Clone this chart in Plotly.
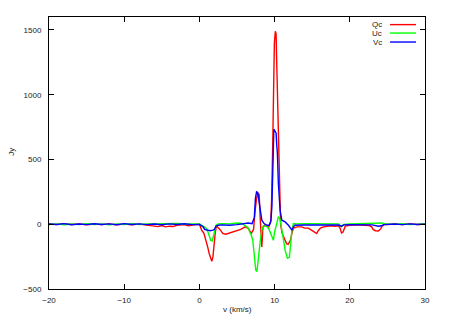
import plotly.graph_objects as go

# ---- data ----
v_qc = [-20, -19, -18, -17, -16, -15, -14, -13, -12, -11, -10, -9, -8, -7, -6.5, -6, -5.5, -5,
        -4.5, -4, -3.5, -3, -2.5, -2, -1.5, -1, -0.5, 0, 0.15, 0.3, 0.6, 0.9, 1.1, 1.3, 1.5, 1.65,
        1.8, 1.9, 2.0, 2.1, 2.25, 2.4, 2.8, 3.1, 3.5, 3.9, 4.4, 4.8, 5.5, 6.1, 6.5, 6.9, 7.2, 7.4,
        7.6, 7.8, 7.95, 8.1, 8.2, 8.3, 8.45, 8.7, 8.9, 9.2, 9.5, 9.6, 9.75, 9.85, 9.97, 10.1, 10.2,
        10.3, 10.37, 10.5, 10.6, 10.8, 11.0, 11.3, 11.6, 11.8, 12.1, 12.3, 12.5, 13.0, 13.6, 14.0,
        14.5, 14.9, 15.4, 15.6, 15.8, 16.1, 16.5, 17, 17.5, 18, 18.5, 18.7, 18.9, 19.1, 19.4, 20,
        21, 22, 22.6, 22.9, 23.1, 23.4, 23.8, 24.1, 24.3, 24.6, 25, 26, 27, 28, 29, 30]
qc = [2, -3, 4, -2, 3, -4, 2, -3, 3, -5, 2, -4, 1, -6, -8, -15, -18, -10,
      -20, -15, -18, -8, -5, -3, -12, -10, -3, 0, -20, -46, -70, -124, -175, -226, -270, -286,
      -252, -175, -124, -70, -15, -20, -46, -70, -77, -70, -60, -50, -40, -20, -31, -70, -40, 100,
      200, 240, 230, 31, -150, -175, -20, -5, -15, -25, 30, 185, 610, 1128, 1400, 1490, 1470,
      1200, 1000, 700, 300, 0, -70, -110, -150, -155, -124, -70, -30, -20, -20, -30,
      -30, -46, -67, -72, -50, -30, -20, -15, -12, -15, -12, -30, -67, -60, -15, -8,
      -5, -8, -10, -20, -40, -50, -52, -36, -15, 0, -3, 2, -3, 3, -2, 2]

v_uc = [-20, -19, -18, -17, -16, -15, -14, -13, -12, -11, -10, -9, -8, -7, -6, -5, -4, -3, -2, -1,
        0, 0.5, 0.9, 1.2, 1.5, 1.7, 1.8, 2.0, 2.2, 2.5, 3, 4, 5, 5.5, 6.1, 6.5, 6.7, 6.9, 7.1, 7.2,
        7.4, 7.5, 7.65, 7.8, 7.9, 8.0, 8.1, 8.3, 8.5, 8.8, 9.2, 9.5, 9.84, 10.0, 10.3, 10.5, 10.7,
        10.96, 11.2, 11.4, 11.7, 11.97, 12.15, 12.3, 12.5, 13, 14, 15, 16, 17, 18, 18.5, 18.9,
        19.2, 20, 21, 22, 23, 23.2, 24.3, 24.6, 25, 26, 27, 28, 29, 30]
uc = [-2, 3, -4, 2, -3, 4, -2, 3, -5, 2, -3, 4, -2, 3, 2, 4, 3, 6, 2, 4,
      2, -15, -30, -70, -124, -130, -95, -60, -8, 3, 5, 3, 10, 8, -10, -30, -60, -85, -124, -200,
      -278, -355, -365, -300, -240, -180, -125, -46, -20, -10, -30, -70, -124, -60, 8, 56, 45,
      -31, -124, -200, -263, -255, -150, -46, 5, 3, 5, 4, 6, 3, 5, 3, -20,
      -2, 3, 4, 4, 5, 10, 10, 2, 3, -2, 4, -3, 2, 3]

v_vc = [-20, -19, -18, -17, -16, -15, -14, -13, -12, -11, -10, -9, -8, -7, -6, -5, -4, -3, -2, -1,
        0, 0.3, 0.5, 0.7, 1.0, 1.4, 1.8, 2.0, 2.2, 2.5, 3, 4, 5, 6, 6.5, 7.0, 7.3, 7.45, 7.6, 7.75,
        7.9, 8.1, 8.3, 8.6, 9.0, 9.3, 9.5, 9.64, 9.76, 9.9, 10.05, 10.2, 10.3, 10.37, 10.5, 10.73,
        10.96, 11.4, 11.84, 12.1, 12.3, 12.5, 12.7, 14, 16, 18, 18.5, 18.9, 19.2, 20, 21, 22, 23,
        23.8, 24.2, 24.5, 25, 26, 27, 28, 29, 30]
vc = [3, -2, 5, -4, 2, -3, 4, -2, 3, -4, 5, -2, 3, -3, 2, -4, 3, -2, 4, -3,
      -2, -10, -20, -40, -45, -50, -45, -40, -15, -8, -5, -8, -3, 5, 10, 5, 50, 200, 250, 245,
      180, 134, 31, 5, -8, -8, 20, 134, 548, 734, 720, 703, 600, 548, 316, 108,
      31, 18, -8, -31, -46, -20, -8, -6, -8, -5, -6, -15, -5, -4, -6, -3, -5,
      -15, -12, -3, -2, 2, -3, 3, -2, 1]

series_names = ["Qc", "Uc", "Vc"]
series_colors = ["#ff0000", "#00ff00", "#0000ff"]
x_ticks = [-20, -10, 0, 10, 20, 30]
y_ticks = [-500, 0, 500, 1000, 1500]

FONT = "Liberation Sans"
TXT = "#222222"

fig = go.Figure()
for xs, ys, name, col in zip([v_qc, v_uc, v_vc], [qc, uc, vc], series_names, series_colors):
    fig.add_trace(go.Scatter(x=xs, y=ys, mode="lines", name=name,
                             line=dict(color=col, width=1.4), showlegend=False))

axis_common = dict(showline=True, linecolor="black", linewidth=1, mirror="ticks",
                   ticks="inside", ticklen=5, tickcolor="black", tickwidth=1,
                   showgrid=False, zeroline=False,
                   tickfont=dict(family=FONT, size=8, color=TXT))

fig.update_xaxes(range=[-20, 30], tickvals=x_ticks, ticklabelstandoff=3, **axis_common)
fig.update_yaxes(range=[-500, 1600], tickvals=y_ticks, ticklabelstandoff=5, **axis_common)

# legend (text left, sample line right, like gnuplot)
leg_y = [0.972, 0.941, 0.908]
for name, col, yy in zip(series_names, series_colors, leg_y):
    fig.add_annotation(x=0.89, y=yy, xref="paper", yref="paper", text=name, showarrow=False,
                       xanchor="right", yanchor="middle",
                       font=dict(family=FONT, size=8, color=TXT))
    fig.add_shape(type="line", xref="paper", yref="paper", x0=0.907, x1=0.976, y0=yy, y1=yy,
                  line=dict(color=col, width=1.4))

fig.add_annotation(x=0.5, y=-0.074, xref="paper", yref="paper", text="v (km/s)",
                   showarrow=False, xanchor="center", yanchor="middle",
                   font=dict(family=FONT, size=8, color=TXT))
fig.add_annotation(x=-0.099, y=0.504, xref="paper", yref="paper", text="Jy", textangle=-90,
                   showarrow=False, xanchor="center", yanchor="middle",
                   font=dict(family=FONT, size=8, color=TXT))

# page body has an 8px margin, so the figure is shifted by 8px; compensate
fig.update_layout(width=441, height=312, margin=dict(l=41, r=24, t=9, b=31),
                  paper_bgcolor="white", plot_bgcolor="white")

fig.write_html("out.html")
